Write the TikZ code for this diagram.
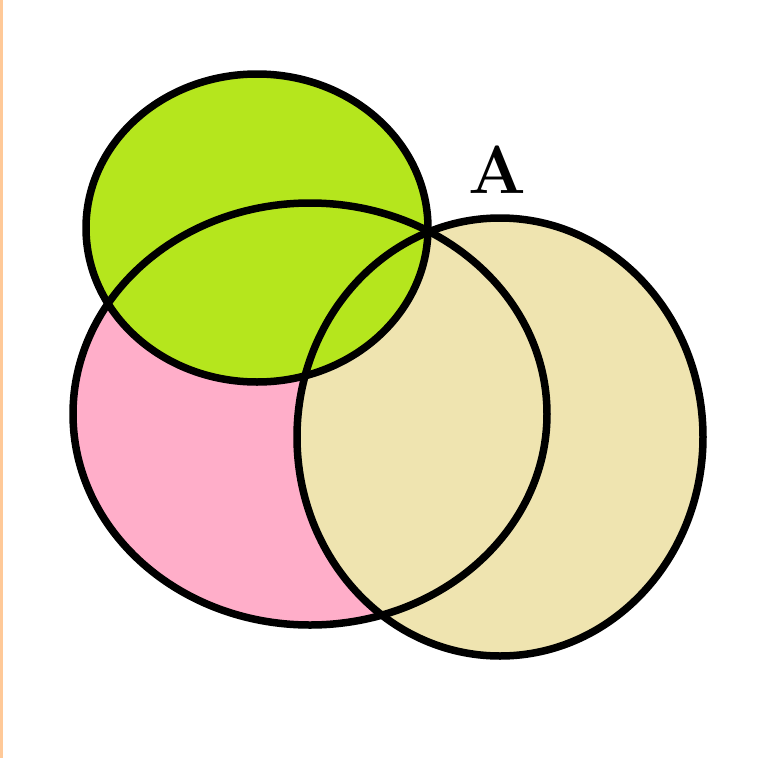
\documentclass[tikz,border=0pt]{standalone}
\usepackage{tikz}
\definecolor{limefill}{RGB}{181,230,29}
\definecolor{pinkfill}{RGB}{255,174,201}
\definecolor{tanfill}{RGB}{239,228,176}
\definecolor{edgeline}{RGB}{255,201,152}

\begin{document}
\begin{tikzpicture}[x=1pt, y=-1pt, ring/.style={line width=7.5pt, black}]
\useasboundingbox (0,0) rectangle (769,758);
% left margin strip
\fill[edgeline] (0,0) rectangle (2.5,758);

% fills, bottom to top
\fill[pinkfill] (310,414) ellipse [x radius=237, y radius=211];
\fill[tanfill]  (500,437) ellipse [x radius=203, y radius=219];
\fill[limefill] (257,228) ellipse [x radius=171, y radius=154];

% outlines
\draw[ring] (310,414) ellipse [x radius=237, y radius=211];
\draw[ring] (500,437) ellipse [x radius=203, y radius=219];
\draw[ring] (257,228) ellipse [x radius=171, y radius=154];

\node[font=\fontsize{68}{72}\selectfont\bfseries] (lblA) at (497,170) {A};
\end{tikzpicture}
\end{document}
